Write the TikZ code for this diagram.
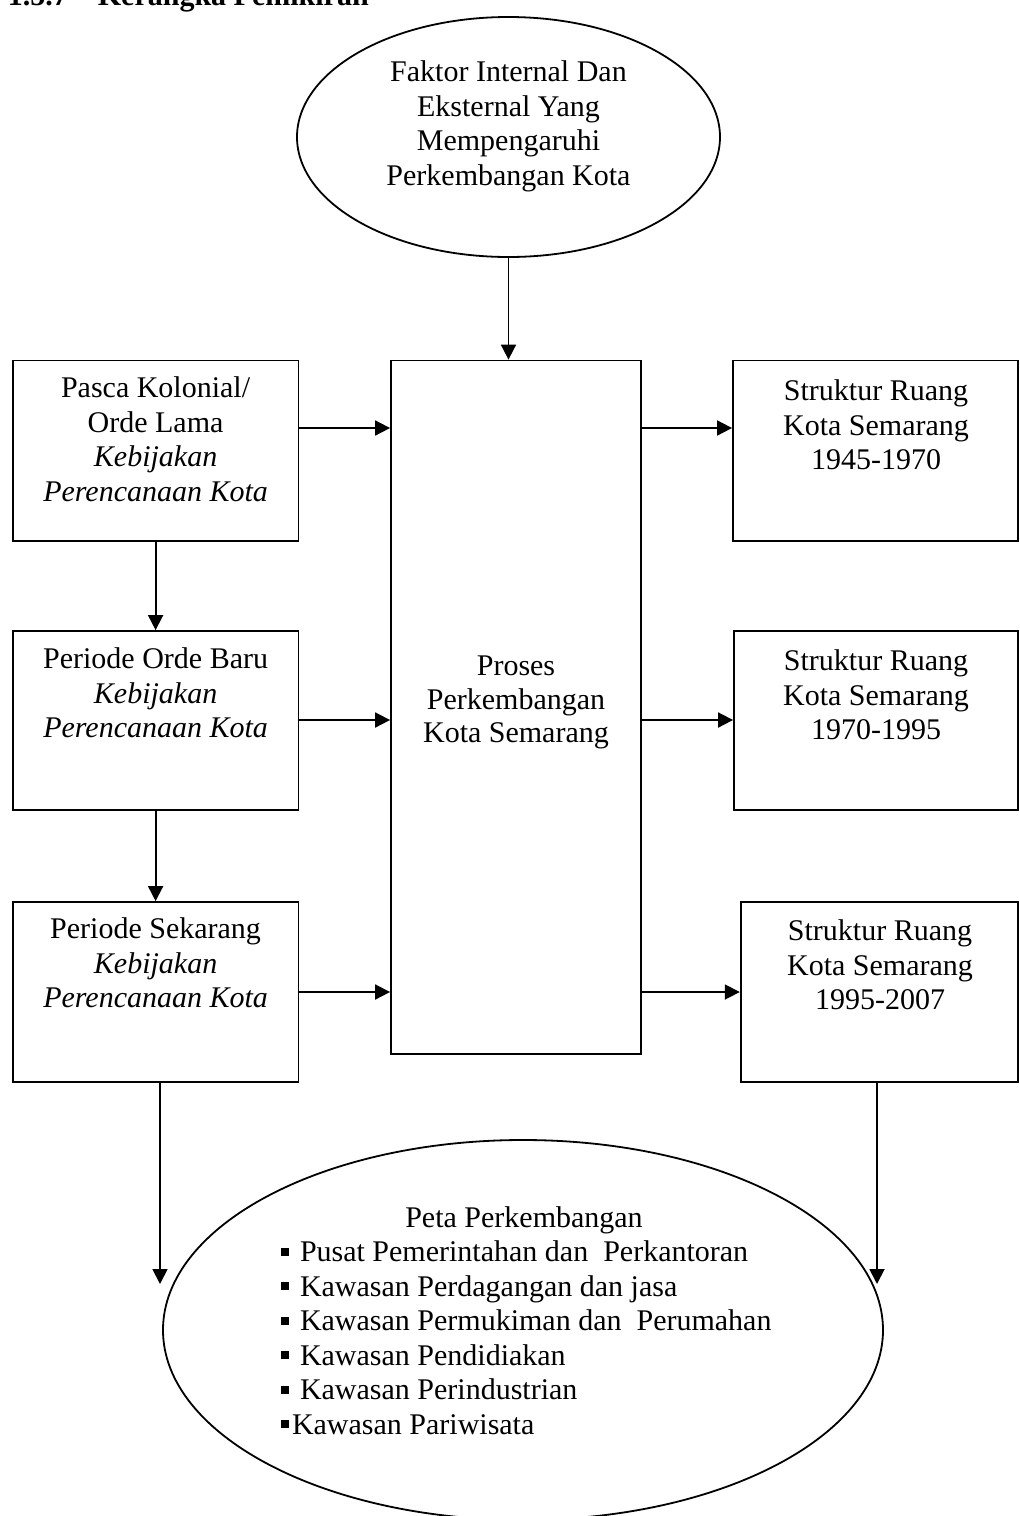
\documentclass[tikz,border=0pt]{standalone}
\usepackage{fontspec}
\setmainfont{Liberation Serif}
\usetikzlibrary{arrows.meta,shapes.geometric,fit}
\newcommand{\fstrut}{\rule{0pt}{12pt}}
\newcommand{\bul}{\rule[3.2pt]{4pt}{4pt}}
\begin{document}
\begin{tikzpicture}[x=0.5pt,y=-0.5pt,
  line width=0.9pt,
  boxframe/.style={draw,rectangle,inner sep=0pt,line width=0.9pt},
  txt/.style={font=\fontsize{15}{17.25}\selectfont,align=center,anchor=north,inner sep=0pt},
  arr/.style={-{Triangle[length=7.5pt,width=7.5pt]},line width=0.9pt}]
\useasboundingbox (0,0) rectangle (1019,1516);

% heading (partly cut by page top, as in the reference)
\node[anchor=base west,inner sep=0pt,font=\fontsize{15}{17}\selectfont\bfseries] (hnum) at (7,5) {1.5.7};
\node[anchor=base west,inner sep=0pt,font=\fontsize{15}{17}\selectfont\bfseries] (htitle) at (97,5) {Kerangka Pemikiran};

% top ellipse
\node[draw,ellipse,inner sep=0pt,minimum width=211.5pt,minimum height=120pt] (top) at (508.5,137) {};
\node[txt] (toptxt) at (508.5,57) {\fstrut Faktor Internal Dan\\Eksternal Yang\\Mempengaruhi\\Perkembangan Kota};

% boxes
\node[boxframe,fit={(12.7,360.5) (298.5,540.7)}] (b1) {};
\node[boxframe,fit={(12.7,631) (298.5,810)}] (b2) {};
\node[boxframe,fit={(12.7,902) (298.5,1082)}] (b3) {};
\node[boxframe,fit={(391,360.5) (641,1054)}] (ctr) {};
\node[boxframe,fit={(733,360.5) (1018,540.7)}] (r1) {};
\node[boxframe,fit={(734,631) (1018,810)}] (r2) {};
\node[boxframe,fit={(740.7,902) (1018,1082)}] (r3) {};

% box texts
\node[txt] (b1txt) at (155.6,373) {\fstrut Pasca Kolonial/\\Orde Lama\\\textit{Kebijakan}\\\textit{Perencanaan Kota}};
\node[txt] (b2txt) at (155.6,644) {\fstrut Periode Orde Baru\\\textit{Kebijakan}\\\textit{Perencanaan Kota}};
\node[txt] (b3txt) at (155.6,914) {\fstrut Periode Sekarang\\\textit{Kebijakan}\\\textit{Perencanaan Kota}};
\node[txt,font=\fontsize{15}{16.75}\selectfont] (ctrtxt) at (516,651) {\fstrut Proses\\Perkembangan\\Kota Semarang};
\node[txt] (r1txt) at (876,376) {\fstrut Struktur Ruang\\Kota Semarang\\1945-1970};
\node[txt] (r2txt) at (876,646) {\fstrut Struktur Ruang\\Kota Semarang\\1970-1995};
\node[txt] (r3txt) at (880,916) {\fstrut Struktur Ruang\\Kota Semarang\\1995-2007};

% bottom ellipse
\node[draw,ellipse,inner sep=0pt,minimum width=360pt,minimum height=190pt] (peta) at (523,1330) {};
\node[txt] (petatitle) at (524,1203) {\fstrut Peta Perkembangan};
\node[txt,align=left,anchor=north west] (petalist) at (279.6,1237) {\fstrut\bul\hspace{5.75pt}Pusat Pemerintahan dan~ Perkantoran\\
\bul\hspace{5.75pt}Kawasan Perdagangan dan jasa\\
\bul\hspace{5.75pt}Kawasan Permukiman dan~ Perumahan\\
\bul\hspace{5.75pt}Kawasan Pendidiakan\\
\bul\hspace{5.75pt}Kawasan Perindustrian\\
\bul\hspace{1.75pt}Kawasan Pariwisata};

% row coordinates
\coordinate (row1) at (0,428);
\coordinate (row2) at (0,720);
\coordinate (row3) at (0,992);
\coordinate (bl) at (160,1284);
\coordinate (br) at (877,1284);

% connectors
\draw[arr] (top.south) -- (top.south |- ctr.north);
\draw[arr] (b1.east |- row1) -- (ctr.west |- row1);
\draw[arr] (b2.east |- row2) -- (ctr.west |- row2);
\draw[arr] (b3.east |- row3) -- (ctr.west |- row3);
\draw[arr] (ctr.east |- row1) -- (r1.west |- row1);
\draw[arr] (ctr.east |- row2) -- (r2.west |- row2);
\draw[arr] (ctr.east |- row3) -- (r3.west |- row3);
\draw[arr] (b1.south) -- (b2.north);
\draw[arr] (b2.south) -- (b3.north);
\draw[arr] (b3.south -| bl) -- (bl);
\draw[arr] (r3.south -| br) -- (br);
\end{tikzpicture}
\end{document}
